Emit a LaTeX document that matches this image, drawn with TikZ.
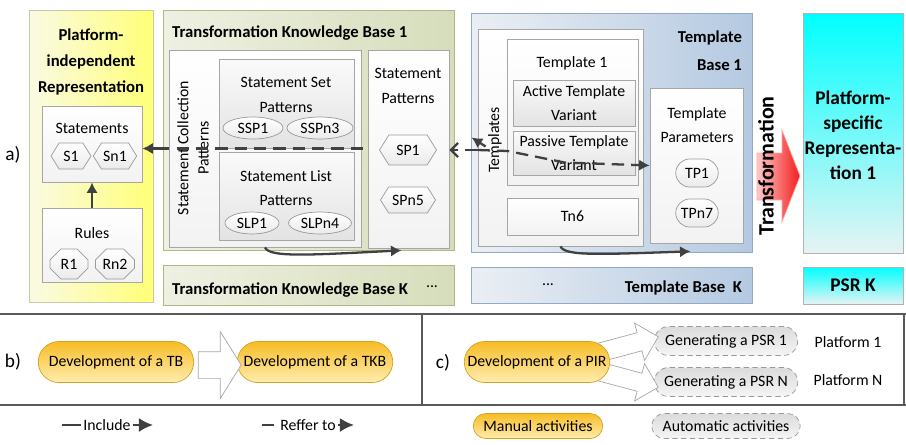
\documentclass[tikz,border=0pt]{standalone}
\usepackage{fontspec}
\setmainfont{Carlito}
\usepackage{tikz}
\usetikzlibrary{shapes.geometric,shapes.misc,shapes.symbols,shapes.arrows,arrows.meta,fit,calc,positioning}

\definecolor{pirL}{HTML}{FAFAE4}
\definecolor{pirR}{HTML}{FFFF78}
\definecolor{pirD}{HTML}{C9C9A6}
\definecolor{tkbL}{HTML}{EEF1E2}
\definecolor{tkbR}{HTML}{D6DDBB}
\definecolor{tkbD}{HTML}{AEB986}
\definecolor{tbL}{HTML}{EBEFF4}
\definecolor{tbR}{HTML}{B4C9E1}
\definecolor{tbD}{HTML}{93AAC6}
\definecolor{psrT}{HTML}{00FFFF}
\definecolor{psrB}{HTML}{E6F3F3}
\definecolor{goldT}{HTML}{F7BC26}
\definecolor{goldB}{HTML}{FFEDB0}
\definecolor{goldD}{HTML}{D4A21E}
\definecolor{redL}{HTML}{FFC8C8}
\definecolor{redR}{HTML}{F21C1C}
\definecolor{lineC}{HTML}{404040}

\tikzset{
 pirbox/.style={draw=pirD, left color=pirL, right color=pirR, inner sep=0pt},
 tkbbox/.style={draw=tkbD, left color=tkbL, right color=tkbR, inner sep=0pt},
 tbbox/.style={draw=tbD, left color=tbL, right color=tbR, inner sep=0pt},
 psrbox/.style={draw=black!30, top color=psrT, bottom color=psrB, inner sep=0pt},
 ibox/.style={draw=black!35, top color=white, bottom color=black!5, inner sep=0pt},
 gbox/.style={draw=black!35, top color=black!2, bottom color=black!11, inner sep=0pt},
 txt/.style={align=center, inner sep=1pt},
 ttl/.style={align=center, inner sep=1pt, font=\fontsize{9.5}{15}\selectfont\bfseries},
 lab/.style={font=\fontsize{11}{13}\selectfont},
 hexa/.style={signal, signal to=east and west, signal pointer angle=116, draw=black!40,
   top color=white, bottom color=black!8, minimum width=0.8cm, minimum height=0.52cm, inner sep=1pt},
 octa/.style={chamfered rectangle, chamfered rectangle xsep=3pt, draw=black!40,
   top color=white, bottom color=black!8, minimum width=0.76cm, minimum height=0.6cm, inner sep=1pt},
 oval/.style={ellipse, draw=black!40, top color=white, bottom color=black!8,
   minimum height=0.44cm, inner sep=0pt},
 rbox/.style={rounded rectangle, draw=black!40, top color=white, bottom color=black!8,
   minimum width=0.92cm, minimum height=0.56cm, inner sep=1pt},
 pill/.style={rounded rectangle, draw=goldD, top color=goldT, bottom color=goldB,
   minimum height=0.82cm, inner sep=1pt},
 apill/.style={rounded rectangle, draw=black!40, densely dashed, top color=black!14,
   bottom color=black!4, minimum height=0.58cm, inner sep=1pt},
 blockarr/.style={single arrow, draw=black!35, fill=white, inner xsep=0pt, inner ysep=0.26cm,
   single arrow head extend=0.4cm, single arrow tip angle=116},
 incl/.style={draw=lineC, line width=1.3pt, -{Latex[length=6pt,width=6.5pt]}},
 refer/.style={draw=lineC, line width=1.3pt, dash pattern=on 7pt off 4pt},
 sep/.style={draw=black!65, line width=1.1pt},
}

\begin{document}
\begin{tikzpicture}[x=0.02cm,y=-0.02cm,font=\fontsize{9}{14}\selectfont]
\useasboundingbox (0,0) rectangle (906,444);

% a) platform-independent representation
\node[lab] (alab) at (13,155) {a)};
\node[pirbox, fit={(29,10) (153,302)}] (pir) {};
\node[ttl] (pirttl) at (91,62) {Platform-\\independent\\Representation};
\node[ibox, fit={(42,106) (142,182)}] (stmts) {};
\node (stmtsttl) at (92,128) {Statements};
\node[hexa] (s1) at (71,156) {S1};
\node[hexa] (sn1) at (115,156) {Sn1};
\node[ibox, fit={(42,208) (142,282)}] (rules) {};
\node (rulesttl) at (92,233) {Rules};
\node[octa] (r1) at (69,264) {R1};
\node[octa] (rn2) at (115,264) {Rn2};

% transformation knowledge base
\node[tkbbox, fit={(163,10) (454,250)}] (tkb) {};
\node[ttl, anchor=west] (tkbttl) at (170,33) {Transformation Knowledge Base 1};
\node[ibox, fit={(169,50) (361,247)}] (scp) {};
\node[txt, rotate=90, font=\fontsize{9}{11.5}\selectfont] (scpttl) at (193,148) {Statement Collection\\Patterns};
\node[gbox, fit={(219,59) (354,148)}] (ssp) {};
\node[txt] (sspttl) at (286,95) {Statement Set\\Patterns};
\node[oval, minimum width=1.2cm] (ssp1) at (253,128) {SSP1};
\node[oval, minimum width=1.32cm] (sspn3) at (320,128) {SSPn3};
\node[gbox, fit={(219,152) (354,240)}] (slp) {};
\node[txt] (slpttl) at (286,188) {Statement List\\Patterns};
\node[oval, minimum width=1.08cm] (slp1) at (252,223) {SLP1};
\node[oval, minimum width=1.26cm] (slpn4) at (320,223) {SLPn4};
\node[ibox, fit={(368,50) (449,248)}] (spats) {};
\node[txt] (spatsttl) at (408,86) {Statement\\Patterns};
\node[hexa, minimum width=1.14cm, minimum height=0.6cm] (sp1) at (408,150) {SP1};
\node[hexa, minimum width=1.1cm] (spn5) at (408,200) {SPn5};
\node[tkbbox, fit={(163,265) (454,305)}] (tkbk) {};
\node[ttl, anchor=west] (tkbkttl) at (170,290) {Transformation Knowledge Base K};
\node (tkbkdots) at (432,287) {...};

% template base
\node[tbbox, fit={(471,13) (752,252)}] (tb) {};
\node[ttl, align=right, anchor=east, font=\fontsize{9.5}{16}\selectfont\bfseries] (tbttl) at (744,51) {Template\\Base 1};
\node[ibox, fit={(478,29) (643,246)}] (tpls) {};
\node[rotate=90] (tplsttl) at (495,140) {Templates};
\node[ibox, fit={(507,39) (638,185)}] (tpl1) {};
\node (tpl1ttl) at (572,63) {Template 1};
\node[gbox, fit={(513,80) (635,126)}] (atv) {};
\node[txt] (atvttl) at (atv) {Active Template\\Variant};
\node[gbox, fit={(513,131) (635,175)}] (ptv) {};
\node[txt] (ptvttl) at (ptv) {Passive Template\\Variant};
\node[ibox, fit={(507,198) (638,235)}] (tn6) {};
\node (tn6ttl) at (tn6) {Tn6};
\node[ibox, fit={(650,88) (743,243)}] (tpar) {};
\node[txt] (tparttl) at (697,125) {Template\\Parameters};
\node[rbox] (tp1) at (697,173) {TP1};
\node[rbox] (tpn7) at (697,213) {TPn7};
\node[tbbox, fit={(471,267) (752,303)}] (tbk) {};
\node (tbkdots) at (548,285) {...};
\node[ttl, anchor=east] (tbkttl) at (744,288) {Template Base\ \ K};

% transformation and platform-specific representation
\path[draw=red!35, left color=redL, right color=redR] (757,153) -- (782,153) -- (782,130) -- (800,176)
  -- (782,222) -- (782,200) -- (757,200) -- cycle;
\node[rotate=90, font=\fontsize{12.5}{14}\selectfont\bfseries] (trans) at (766,166) {Transformation};
\node[psrbox, fit={(803,13) (903,253)}] (psr) {};
\node[ttl, font=\fontsize{11}{14.2}\selectfont\bfseries] (psrttl) at (853,135) {Platform-\\specific\\Representa-\\tion 1};
\node[psrbox, fit={(803,267) (903,304)}] (psrk) {};
\node[ttl, font=\fontsize{11}{13}\selectfont\bfseries] (psrkttl) at (psrk) {PSR K};

% connectors
\draw[incl] (rules) -- (stmts);
\draw[incl] (scp.west) -- (scp.west -| stmts.east);
\draw[refer] ($(scp.west)+(8,0)$) -- (scp.west -| spats.west);
\draw[incl] (scp.south) .. controls ($(scp.south)+(4,10)$) and ($(scp.south)+(40,8)$) .. ($(spats.south)+(-7,2)$);
\draw[refer, -{Straight Barb[length=4pt,width=8pt]}] (tpls.west |- sp1) -- (spats.east |- sp1);
\draw[incl] ($(tpls.west)+(8,9)$) -- ($(tpls.west)+(-6,0)$);
\draw[refer, -{Latex[length=6pt,width=6.5pt]}] (tpls.west |- sp1) -- ($(tpls.west |- sp1)+(30,1)$)
  -- ($(tpar.west)+(-85,-3)$) -- (tpar.west);
\draw[incl] (tpls.south) .. controls ($(tpls.south)+(4,10)$) and ($(tpls.south)+(40,8)$) .. ($(tpar.south)+(-6,8)$);

% separators
\draw[sep] (0,314) -- (906,314);
\draw[sep] (0,405) -- (906,405);
\draw[sep] (422,314) -- (422,405);
\draw[sep] (904,314) -- (904,405);

% b) development of bases
\node[lab] (blab) at (13,362) {b)};
\node[pill, minimum width=3.18cm] (devtb) at (116,362) {Development of a TB};
\node[pill, minimum width=3.18cm] (devtkb) at (315,362) {Development of a TKB};
\node[blockarr, minimum height=0.86cm] (barr) at ($(devtb.east)!0.5!(devtkb.west)+(0,3)$) {};

% c) development of a PIR and generation
\node[lab] (clab) at (443,363) {c)};
\node[apill, minimum width=2.94cm] (gen1) at (726,341) {Generating a PSR 1};
\node[apill, minimum width=2.94cm] (genn) at (726,382) {Generating a PSR N};
\node[blockarr, rotate=15, minimum height=1.4cm, inner ysep=0.18cm, single arrow head extend=0.2cm, single arrow tip angle=90] (carr1) at ($(gen1.west)+(-34,6)$) {};
\node[blockarr, rotate=-15, minimum height=1.4cm, inner ysep=0.18cm, single arrow head extend=0.2cm, single arrow tip angle=90] (carrn) at ($(genn.west)+(-34,-5)$) {};
\node[pill, minimum width=2.98cm] (devpir) at (537,362) {Development of a PIR};
\node (plat1) at (848,342) {Platform 1};
\node (platn) at (848,380) {Platform N};

% legend
\coordinate (incla) at (62,425);
\coordinate (inclb) at (153,425);
\node[inner sep=1pt] (inclt) at (107,425) {Include};
\draw[draw=lineC, line width=1.3pt] (incla) -- (inclt.west);
\draw[incl, -{Latex[length=8pt,width=8pt]}] (inclt.east) -- (inclb);
\coordinate (refa) at (262,425);
\coordinate (refb) at (354,425);
\node[inner sep=1pt] (reft) at (308,425) {Reffer to};
\draw[refer] (refa) -- ($(reft.west)+(-3,0)$);
\draw[incl, -{Latex[length=8pt,width=8pt]}] (reft.east) -- (refb);
\node[pill, minimum width=2.66cm, minimum height=0.5cm] (manual) at (538,426) {Manual activities};
\node[apill, minimum width=3.04cm, minimum height=0.5cm] (auto) at (726,426) {Automatic activities};
\end{tikzpicture}
\end{document}
